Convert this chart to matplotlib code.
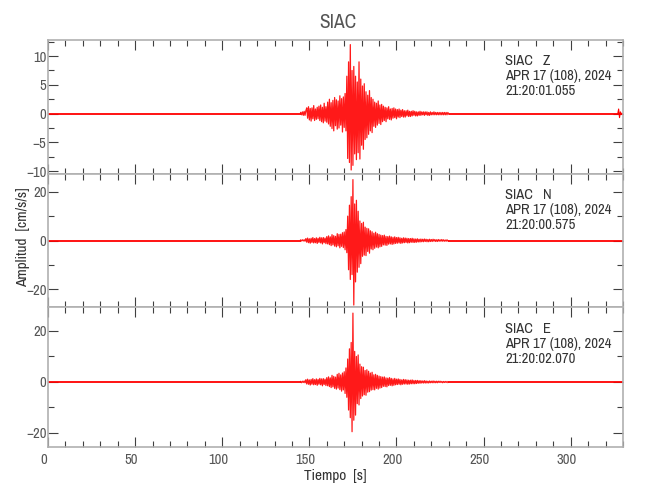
import numpy as np
import matplotlib
matplotlib.use("Agg")
import matplotlib.pyplot as plt
from matplotlib import font_manager as fm
from matplotlib.ticker import MultipleLocator
from matplotlib.transforms import ScaledTranslation

# choose a narrow font if one is installed
fam, stretch = "Liberation Sans", "normal"
for f in fm.fontManager.ttflist:
    if "Narrow" in f.name:
        fam, stretch = f.name, "normal"
        break
else:
    for f in fm.fontManager.ttflist:
        if f.name == "DejaVu Sans" and str(f.stretch) in ("condensed", "semi-condensed"):
            fam, stretch = "DejaVu Sans", "condensed"
            break
plt.rcParams['font.family'] = [fam, 'DejaVu Sans']
plt.rcParams['font.stretch'] = stretch
narrow = fam != "Liberation Sans"

title = "SIAC"
components = ["Z", "N", "E"]
start_times = ["21:20:01.055", "21:20:00.575", "21:20:02.070"]
date_label = "APR 17 (108), 2024"
ylims = [(-10.5, 12.8), (-27.3, 27.3), (-25.5, 29.4)]
yticks = [[-10, -5, 0, 5, 10], [-20, 0, 20], [-20, 0, 20]]
yminor = [2.5, 10, 10]
xmax = 330

# event window sampling
t0 = 145.0
dt = 0.5

z_vals = [0.2, -0.2, 0.3, -0.3, 0.4, -0.3, 0.5,
          1.0, -0.8, 1.2, -1.1, 0.9, -1.3, 1.0, -0.9, 1.4, -1.2, 0.8, -1.0, 1.1, -0.9,
          1.3, -1.2, 1.5, -1.4, 1.1, -1.6, 1.8, -1.3, 1.2, -1.5,
          2.0, -1.8, 2.5, -2.2, 1.9, -2.6, 2.3, -3.0, 2.8, -2.1, 2.4, -2.7,
          2.2, -2.5, 3.1, -2.0, 2.6, -3.2, 2.9, -2.4, 3.5, -3.0,
          6.5, -7.8, 9.0, -8.5,
          12.0, -9.8,
          7.5, -9.0, 8.2, -7.0, 6.5, -8.0, 5.5, -6.8,
          9.0, -7.9,
          6.0, -5.5, 4.8, -6.2, 5.2, -4.5,
          3.8, -4.2, 3.2, -3.6, 4.0, -3.0, 2.8, -3.3,
          2.5, -2.2, 2.0, -2.4, 1.8, -2.0, 2.2, -1.7, 1.5, -1.9, 1.6, -1.4,
          1.3, -1.2, 1.1, -1.4, 1.0, -0.9, 1.2, -1.0, 0.8, -1.1, 0.9, -0.8, 1.0, -0.7, 0.8, -0.9,
          0.7, -0.6, 0.8, -0.7, 0.6, -0.5, 0.7, -0.6, 0.5, -0.6, 0.5, -0.4, 0.6, -0.5, 0.4,
          -0.5, 0.4, -0.4, 0.5, -0.3, 0.4, -0.4, 0.3, -0.4, 0.3, -0.3, 0.4, -0.3, 0.3, -0.2,
          0.3, -0.3, 0.3, -0.2, 0.3, -0.3, 0.2, -0.3, 0.3, -0.2, 0.2, -0.2, 0.3, -0.2, 0.2,
          -0.2, 0.2, -0.2, 0.2, -0.2, 0.2, -0.2, 0.2, -0.2, 0.2, -0.2, 0.2, -0.2, 0.2, -0.1]

n_vals = [0.2, -0.2, 0.3, -0.2, 0.3, -0.3,
          0.8, -0.7, 1.0, -0.9, 0.7, -1.1, 0.9, -0.8, 1.2, -1.0, 0.8, -0.9,
          1.1, -1.2, 0.9, -0.8, 1.3, -1.0, 1.1, -1.4, 1.2, -0.9, 1.0, -1.3,
          1.6, -1.4, 1.9, -1.7, 1.5, -2.1, 2.4, -1.8, 2.0, -2.3, 1.7, -2.6,
          2.8, -2.2, 2.5, -3.0, 2.6, -2.4, 3.2, -2.9, 3.5, -3.8, 4.5, -5.0,
          10.0, -12.0, 14.5, -16.0, 18.0, -14.0,
          25.0, -26.5,
          15.0, -17.0, 16.5, -13.0, 12.0, -11.0,
          8.0, -9.5, 7.0, -6.5, 7.5, -6.0, 5.5, -6.2, 5.0, -4.5, 4.8, -5.2,
          4.0, -3.5, 3.6, -3.8, 3.0, -3.2, 3.4, -2.7, 2.8, -3.0, 2.5, -2.6, 2.2, -2.4,
          2.0, -1.8, 2.2, -1.9, 1.7, -2.0, 1.6, -1.5, 1.8, -1.4, 1.5, -1.6, 1.3, -1.4, 1.5, -1.2,
          1.2, -1.1, 1.3, -1.0, 1.1, -1.2, 0.9, -1.0, 1.1, -0.9, 1.0, -0.8, 0.9, -1.0, 0.8,
          -0.9, 0.8, -0.7, 0.9, -0.8, 0.7, -0.8, 0.6, -0.7, 0.7, -0.6, 0.5, -0.6, 0.6, -0.5,
          0.5, -0.5, 0.6, -0.4, 0.5, -0.5, 0.4, -0.5, 0.5, -0.4, 0.4, -0.4, 0.5, -0.3, 0.4,
          -0.4, 0.3, -0.4, 0.4, -0.3, 0.3, -0.3, 0.4, -0.3, 0.3, -0.3, 0.2, -0.3, 0.3, -0.2]

e_vals = [0.2, -0.3, 0.3, -0.2, 0.4, -0.3,
          0.9, -0.8, 1.1, -0.9, 0.8, -1.2, 1.0, -0.9, 1.3, -1.1, 0.9, -1.0,
          1.2, -1.3, 1.0, -0.9, 1.4, -1.1, 1.2, -1.5, 1.3, -1.0, 1.1, -1.4,
          1.7, -1.5, 2.0, -1.8, 1.6, -2.2, 2.6, -1.9, 2.2, -2.5, 1.9, -2.8,
          3.0, -2.4, 3.4, -3.0, 2.8, -3.6, 3.5, -3.1, 4.0, -4.5, 5.5, -6.0,
          9.0, -11.0, 13.0, -14.0, 15.5, -19.5,
          27.0, -15.0,
          12.0, -13.0, 10.0, -8.5, 10.6, -9.0,
          7.0, -6.5, 6.0, -5.5, 5.8, -5.0, 4.5, -5.2, 4.8, -4.0, 4.2, -3.8,
          3.5, -3.2, 3.8, -3.0, 2.8, -3.1, 3.0, -2.5, 2.6, -2.8, 2.3, -2.4, 2.1, -2.2,
          1.9, -1.7, 2.0, -1.8, 1.6, -1.9, 1.5, -1.4, 1.7, -1.3, 1.4, -1.5, 1.2, -1.3, 1.4, -1.1,
          1.1, -1.0, 1.2, -0.9, 1.0, -1.1, 0.8, -0.9, 1.0, -0.8, 0.9, -0.8, 0.8, -0.9, 0.7,
          -0.8, 0.7, -0.7, 0.8, -0.7, 0.6, -0.7, 0.6, -0.6, 0.6, -0.5, 0.5, -0.5, 0.5, -0.4,
          0.4, -0.4, 0.5, -0.4, 0.4, -0.4, 0.3, -0.4, 0.4, -0.3, 0.3, -0.3, 0.4, -0.3, 0.3,
          -0.3, 0.3, -0.3, 0.3, -0.2, 0.3, -0.2, 0.2, -0.3, 0.2, -0.2, 0.2, -0.2, 0.2, -0.2]

traces = [z_vals, n_vals, e_vals]

# small end-of-record glitch on Z
z_end_t = [327.0, 327.5, 328.0, 328.5, 329.0]
z_end_v = [0.0, 0.8, -0.7, 0.3, 0.0]

red = "#ff0000"
spine_col = "#b0b0b0"
tick_col = "#404040"
text_col = "#333333"
label_col = "#555555"

fs_tick = 10.5 if narrow else 9
fs_text = 10.5 if narrow else 9

fig = plt.figure(figsize=(6.5, 5.0), dpi=100)
left, right = 48 / 650, 623 / 650
edges = [40, 174, 307, 447]
axes = []
for i in range(3):
    top = 1 - edges[i] / 500
    bot = 1 - edges[i + 1] / 500
    ax = fig.add_axes([left, bot, right - left, top - bot])
    axes.append(ax)

shift = ScaledTranslation(-4 / 100, 0, fig.dpi_scale_trans)

for i, ax in enumerate(axes):
    vals = traces[i]
    t = t0 + dt * np.arange(len(vals))
    tend = t[-1]
    ax.plot([0, t0], [0, 0], color=red, lw=1.3, solid_capstyle="butt")
    ax.plot([tend, xmax], [0, 0], color=red, lw=1.3, solid_capstyle="butt")
    ax.plot(t, vals, color=red, lw=0.9, alpha=0.9)
    if i == 0:
        ax.plot(z_end_t, z_end_v, color=red, lw=0.8)
    ax.set_xlim(0, xmax)
    ax.set_ylim(*ylims[i])
    ax.xaxis.set_major_locator(MultipleLocator(50))
    ax.xaxis.set_minor_locator(MultipleLocator(10))
    ax.set_yticks(yticks[i])
    ax.yaxis.set_minor_locator(MultipleLocator(yminor[i]))
    ax.tick_params(which="both", direction="in", top=True, right=True,
                   color=tick_col, labelcolor=label_col, labelsize=fs_tick)
    ax.tick_params(axis="y", pad=1)
    ax.tick_params(axis="x", pad=4)
    ax.tick_params(which="major", length=7, width=0.8)
    ax.tick_params(which="minor", length=4, width=0.8)
    for s in ax.spines.values():
        s.set_color(spine_col)
        s.set_linewidth(1.2)
    if i < 2:
        ax.tick_params(labelbottom=False)
    else:
        for lab in ax.get_xticklabels():
            lab.set_transform(lab.get_transform() + shift)
    ax.text(0.795, 0.895, f"SIAC   {components[i]}\n{date_label}\n{start_times[i]}",
            transform=ax.transAxes, ha="left", va="top", fontsize=fs_text,
            color=text_col, linespacing=1.1)

axes[2].set_xlabel("Tiempo  [s]", fontsize=fs_text + 0.5, color=text_col, labelpad=2)
fig.text(0.036, 0.525, "Amplitud  [cm/s/s]", rotation=90, ha="center", va="center",
         fontsize=fs_text + 0.5, color=text_col)
fig.text(0.52, 0.955, title, ha="center", va="center", fontsize=14, color=label_col)

fig.savefig("out.png", dpi=100)
